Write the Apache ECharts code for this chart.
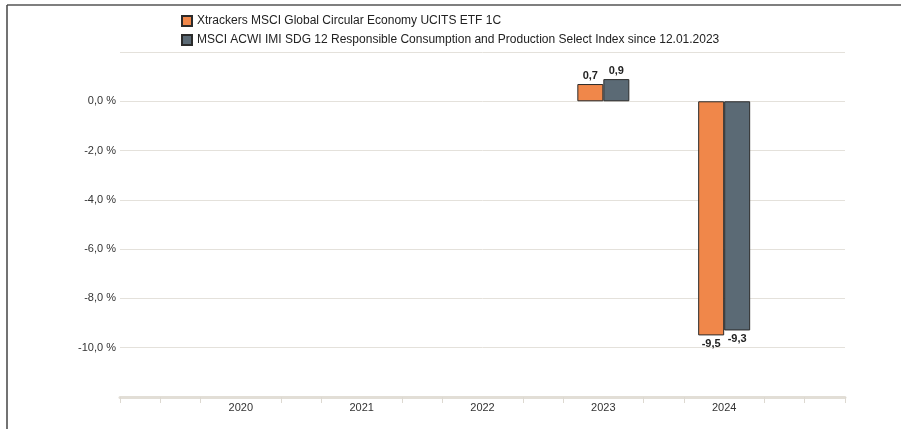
<!DOCTYPE html>
<html>
<head>
<meta charset="utf-8">
<title>Performance</title>
<script src="https://cdn.jsdelivr.net/npm/echarts@6/dist/echarts.min.js"></script>
<style>
  html, body { margin: 0; padding: 0; background: #fff; }
  #chart { width: 901px; height: 429px; }
</style>
</head>
<body>
<div id="chart"></div>
<script>
// data
var years = [2023, 2024];
var fundValues = [0.7, -9.5];
var indexValues = [0.9, -9.3];
var seriesNames = [
    'Xtrackers MSCI Global Circular Economy UCITS ETF 1C',
    'MSCI ACWI IMI SDG 12 Responsible Consumption and Production Select Index since 12.01.2023'
];

function fmt(v, digits) {
    return v.toFixed(digits).replace('.', ',');
}

function pairs(vals) {
    var out = [];
    for (var i = 0; i < years.length; i++) {
        out.push({
            value: [years[i], vals[i]],
            label: { position: vals[i] < 0 ? 'bottom' : 'top' }
        });
    }
    return out;
}

var e = echarts.init(document.getElementById('chart'));
var font = 'Liberation Sans, Arial, sans-serif';

var option = {
    animation: false,
    textStyle: { fontFamily: font },
    legend: {
        orient: 'vertical',
        left: 176,
        top: 10,
        itemGap: 7,
        itemWidth: 10,
        itemHeight: 10,
        icon: 'rect',
        textStyle: { fontSize: 12, color: '#222', fontFamily: font },
        data: seriesNames
    },
    grid: { left: 120, right: 56, top: 52, bottom: 32 },
    xAxis: [
        {
            type: 'value',
            min: 2019,
            max: 2025,
            interval: 1,
            splitLine: { show: false },
            axisLine: { show: true, onZero: false, lineStyle: { color: '#e2ded6', width: 3 } },
            axisTick: { show: false },
            minorTick: { show: true, splitNumber: 3, length: 6, lineStyle: { color: '#ddd9d1', width: 1 } },
            axisLabel: {
                fontSize: 11, color: '#333', margin: 5,
                formatter: function (v) {
                    return (v === 2019 || v === 2025) ? '' : String(v);
                }
            }
        },
        {
            // edge ticks only
            type: 'value',
            position: 'bottom',
            min: 2019,
            max: 2025,
            interval: 6,
            axisLine: { show: false, onZero: false },
            axisTick: { show: true, length: 6, lineStyle: { color: '#ddd9d1' } },
            axisLabel: { show: false },
            splitLine: { show: false }
        }
    ],
    yAxis: {
        type: 'value',
        min: -12,
        max: 2,
        interval: 2,
        axisLine: { show: false },
        axisTick: { show: false },
        splitLine: { lineStyle: { color: '#e4e1db', width: 1 } },
        axisLabel: {
            fontSize: 11, color: '#333', margin: 4,
            formatter: function (v) {
                if (v === 2 || v === -12) return '';
                return fmt(v, 1) + ' %';
            }
        }
    },
    series: [
        {
            name: seriesNames[0],
            type: 'bar',
            barWidth: 26,
            barGap: '0%',
            data: pairs(fundValues),
            itemStyle: { color: '#f0874a', borderColor: '#2b2b2b', borderWidth: 1 },
            label: {
                show: true, fontSize: 11, fontWeight: 'bold', color: '#222', distance: 3,
                formatter: function (p) { return fmt(p.value[1], 1); }
            }
        },
        {
            name: seriesNames[1],
            type: 'bar',
            barWidth: 26,
            barGap: '0%',
            data: pairs(indexValues),
            itemStyle: { color: '#5b6a75', borderColor: '#2b2b2b', borderWidth: 1 },
            label: {
                show: true, fontSize: 11, fontWeight: 'bold', color: '#222', distance: 3,
                formatter: function (p) { return fmt(p.value[1], 1); }
            }
        }
    ],
    graphic: [
        { type: 'line', shape: { x1: 7, y1: 5, x2: 901, y2: 5 }, style: { stroke: '#555', lineWidth: 1.5 } },
        { type: 'line', shape: { x1: 7, y1: 5, x2: 7, y2: 429 }, style: { stroke: '#444', lineWidth: 1.5 } }
    ]
};

e.setOption(option);
</script>
</body>
</html>
